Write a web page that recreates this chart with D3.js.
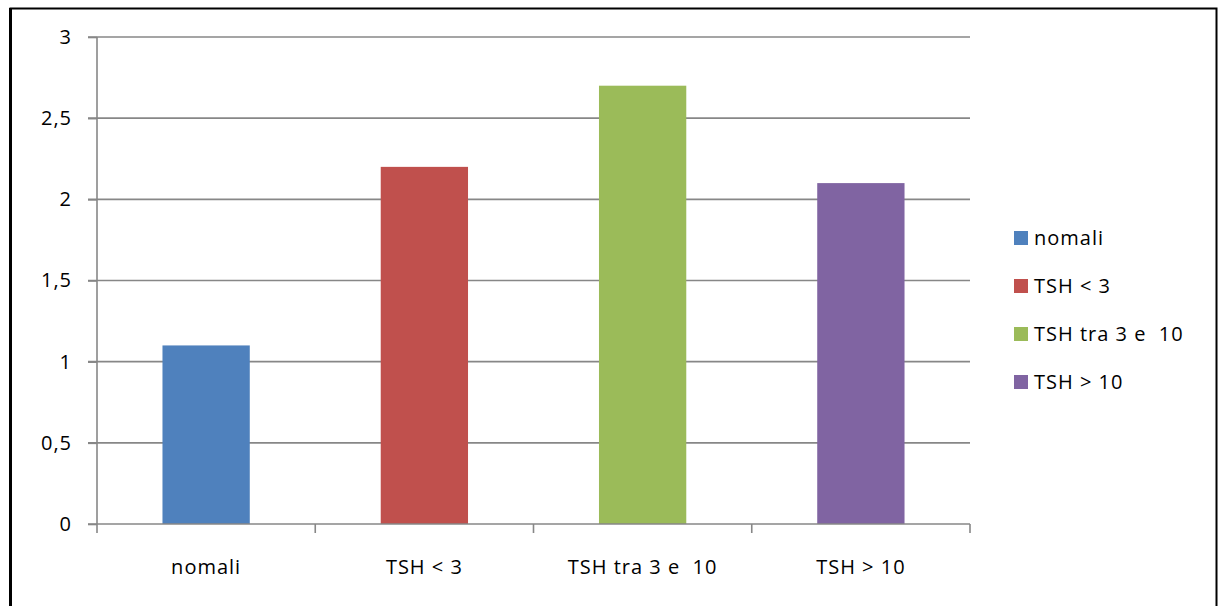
<!DOCTYPE html>
<html>
<head>
<meta charset="utf-8">
<script src="https://cdn.jsdelivr.net/npm/d3@7"></script>
<style>
  body { margin: 0; background: #fff; }
  text { font-family: "Open Sans", sans-serif; fill: #000; white-space: pre; }
</style>
</head>
<body>
<div id="chart"></div>
<script>
// dati
const categories = ["nomali", "TSH < 3", "TSH tra 3 e  10", "TSH > 10"];
const values = [1.1, 2.2, 2.7, 2.1];
const colors = ["#4F81BD", "#C0504D", "#9BBB59", "#8064A2"];
const yTickValues = [0, 0.5, 1, 1.5, 2, 2.5, 3];

const W = 1218, H = 606;
const plot = { left: 97, right: 970, top: 37, bottom: 524 };

const svg = d3.select("#chart").append("svg")
  .attr("width", W)
  .attr("height", H);

// cornice
svg.append("rect")
  .attr("x", 10.5).attr("y", 8.5)
  .attr("width", 1206).attr("height", 620)
  .attr("fill", "none")
  .attr("stroke", "#000")
  .attr("stroke-width", 2);
svg.append("line")
  .attr("x1", 10.5).attr("x2", 10.5).attr("y1", 8).attr("y2", H)
  .attr("stroke", "#000").attr("stroke-width", 3);

const x = d3.scaleBand()
  .domain(categories)
  .range([plot.left, plot.right])
  .paddingInner(0.6)
  .paddingOuter(0.3);

const y = d3.scaleLinear()
  .domain([0, 3])
  .range([plot.bottom, plot.top]);

// griglia orizzontale
svg.selectAll("line.grid")
  .data(yTickValues.filter(d => d > 0))
  .enter().append("line")
  .attr("class", "grid")
  .attr("x1", plot.left - 9)
  .attr("x2", plot.right)
  .attr("y1", d => y(d))
  .attr("y2", d => y(d))
  .attr("stroke", "#878787")
  .attr("stroke-width", 1.6);

// asse Y
const yAxis = svg.append("g")
  .attr("transform", `translate(${plot.left},0)`)
  .call(d3.axisLeft(y).tickValues(yTickValues).tickSize(9).tickPadding(16)
    .tickFormat(d => String(d).replace(".", ",")));
yAxis.select(".domain").attr("stroke", "#878787").attr("stroke-width", 1.6)
  .attr("d", `M0,${plot.top}V${plot.bottom}`);
yAxis.selectAll(".tick line").attr("stroke", "#878787").attr("stroke-width", 1.6);
yAxis.selectAll(".tick text").style("font-size", "20px").attr("fill", "#000")
  .style("letter-spacing", "1px")
  .style("font-family", "'Open Sans', sans-serif");

// barre
svg.selectAll("rect.bar")
  .data(values)
  .enter().append("rect")
  .attr("class", "bar")
  .attr("x", (d, i) => x(categories[i]))
  .attr("y", d => y(d))
  .attr("width", x.bandwidth())
  .attr("height", d => y(0) - y(d))
  .attr("fill", (d, i) => colors[i]);

// asse X
const bounds = d3.range(categories.length + 1).map(i => plot.left + i * (plot.right - plot.left) / categories.length);
svg.append("line")
  .attr("x1", plot.left - 9).attr("x2", plot.right)
  .attr("y1", y(0)).attr("y2", y(0))
  .attr("stroke", "#878787").attr("stroke-width", 1.6);
svg.selectAll("line.xtick")
  .data(bounds)
  .enter().append("line")
  .attr("class", "xtick")
  .attr("x1", d => d).attr("x2", d => d)
  .attr("y1", y(0)).attr("y2", y(0) + 9)
  .attr("stroke", "#878787").attr("stroke-width", 1.6);

svg.selectAll("text.xlabel")
  .data(categories)
  .enter().append("text")
  .attr("class", "xlabel")
  .attr("x", d => x(d) + x.bandwidth() / 2)
  .attr("y", 567)
  .attr("dy", "0.35em")
  .attr("text-anchor", "middle")
  .style("font-size", "20px")
  .style("letter-spacing", "1px")
  .text(d => d);

// legenda
const legend = svg.selectAll("g.legend")
  .data(categories)
  .enter().append("g")
  .attr("class", "legend")
  .attr("transform", (d, i) => `translate(1014,${238 + i * 48})`);
legend.append("rect")
  .attr("x", 0).attr("y", -7)
  .attr("width", 14).attr("height", 14)
  .attr("fill", (d, i) => colors[i]);
legend.append("text")
  .attr("x", 20)
  .attr("y", 0)
  .attr("dy", "0.35em")
  .style("font-size", "20px")
  .style("letter-spacing", "1px")
  .text(d => d);
</script>
</body>
</html>
